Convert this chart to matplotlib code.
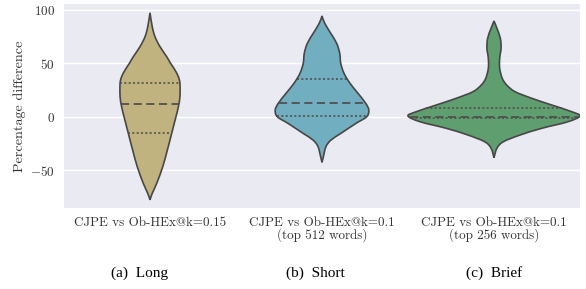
import numpy as np
import matplotlib
matplotlib.use("Agg")
import matplotlib.pyplot as plt
import matplotlib.transforms as mtransforms
from matplotlib.path import Path
from matplotlib.patches import PathPatch

plt.rcParams['font.family'] = ['cmr10', 'DejaVu Serif']
plt.rcParams['axes.formatter.use_mathtext'] = True
plt.rcParams['mathtext.fontset'] = 'cm'

# ---- data ----
categories = ["CJPE vs Ob-HEx@k=0.15",
              "CJPE vs Ob-HEx@k=0.1\n(top 512 words)",
              "CJPE vs Ob-HEx@k=0.1\n(top 256 words)"]
captions = ["(a)  Long", "(b)  Short", "(c)  Brief"]
colors = ["#c1b37f", "#71aec0", "#5f9e6e"]

# violin outlines: value levels and half-widths (in category units)
long_levels = [-78, -71.9, -62.5, -46.9, -31.2, -15.6, 0, 9.4, 18.8, 31.3, 37.5, 43.8, 50, 56.3, 65.7, 75, 84.4, 97.5]
long_halfwidth = [0, 0.013, 0.039, 0.074, 0.101, 0.126, 0.151, 0.165, 0.174, 0.174, 0.165, 0.145, 0.120, 0.097, 0.058, 0.029, 0.013, 0]

short_levels = [-42.8, -37.5, -28.1, -21.9, -15.6, -6.2, 0, 6.3, 12.6, 22, 31.3, 40.7, 50.1, 59.5, 68.9, 78.2, 87.6, 94.5]
short_halfwidth = [0, 0.008, 0.023, 0.052, 0.110, 0.198, 0.260, 0.272, 0.254, 0.209, 0.163, 0.128, 0.109, 0.103, 0.085, 0.051, 0.016, 0]

brief_levels = [-38.5, -29.6, -23.5, -17.2, -10.9, -4.7, 0.7, 4.7, 11, 17.3, 23.5, 29.7, 36, 45.4, 54.8, 64.2, 73.5, 82.9, 89.8]
brief_halfwidth = [0, 0.017, 0.054, 0.151, 0.277, 0.430, 0.500, 0.452, 0.335, 0.219, 0.122, 0.074, 0.048, 0.033, 0.033, 0.041, 0.037, 0.017, 0]

long_quartiles = [-15.6, 11.9, 31.9]
short_quartiles = [0.6, 12.9, 35.4]
brief_quartiles = [-0.8, 0.0, 7.8]

yticks = [-50, 0, 50, 100]

levels_all = [long_levels, short_levels, brief_levels]
widths_all = [long_halfwidth, short_halfwidth, brief_halfwidth]
quart_all = [long_quartiles, short_quartiles, brief_quartiles]


def cr_bezier(pts):
    pts = np.asarray(pts, float)
    n = len(pts)
    verts = []
    for i in range(n - 1):
        p0 = pts[max(i - 1, 0)]
        p1 = pts[i]
        p2 = pts[i + 1]
        p3 = pts[min(i + 2, n - 1)]
        c1 = p1 + (p2 - p0) / 6.0
        c2 = p2 - (p3 - p1) / 6.0
        verts += [c1, c2, p2]
    return verts, [Path.CURVE4] * len(verts)


fig = plt.figure(figsize=(5.86, 2.89), dpi=100)
ax = fig.add_axes([64 / 586, 1 - 208 / 289, 516 / 586, 204 / 289])
ax.set_facecolor("#eaeaf2")
for s in ax.spines.values():
    s.set_visible(False)
ax.set_axisbelow(True)
ax.yaxis.grid(True, color="white", lw=1.0)
ax.xaxis.grid(False)

edge = "#474747"
for i, (lv, hw, q, col) in enumerate(zip(levels_all, widths_all, quart_all, colors)):
    lv = np.asarray(lv, float)
    hw = np.asarray(hw, float)
    right = np.column_stack([i + hw, lv])
    left = np.column_stack([i - hw, lv])[::-1]
    v1, c1 = cr_bezier(right)
    v2, c2 = cr_bezier(left)
    verts = [right[0]] + v1 + v2 + [right[0]]
    codes = [Path.MOVETO] + c1 + c2 + [Path.CLOSEPOLY]
    patch = PathPatch(Path(verts, codes), facecolor=col, edgecolor=edge, lw=1.2, zorder=2)
    ax.add_patch(patch)
    for j, qv in enumerate(q):
        w = np.interp(qv, lv, hw)
        if j == 1:
            ax.plot([i - w, i + w], [qv, qv], color="#505050", lw=1.3,
                    linestyle=(0, (4.5, 2.5)), zorder=3)
        else:
            ax.plot([i - w, i + w], [qv, qv], color="#505050", lw=1.2,
                    linestyle=(0, (1.2, 1.4)), zorder=3)

ax.set_xlim(-0.5, 2.5)
ax.set_ylim(-85.6, 105.7)
ax.set_yticks(yticks)
ax.set_xticks(range(len(categories)))
ax.set_xticklabels(categories, fontsize=9.4, color="#333333", linespacing=0.95)
ax.tick_params(axis="both", length=0, labelsize=9.4, labelcolor="#333333")
ax.tick_params(axis="y", pad=6.5)
ax.tick_params(axis="x", pad=6.5)
ax.set_ylabel("Percentage difference", fontsize=10.2, color="#333333", labelpad=3)

trans = mtransforms.blended_transform_factory(ax.transData, fig.transFigure)
offsets = [-0.06, -0.04, 0.0]
for i, (cap, off) in enumerate(zip(captions, offsets)):
    ax.text(i + off, 1 - 273 / 289, cap, transform=trans,
            ha="center", va="center", fontsize=11, family="Liberation Serif", color="black")

fig.savefig("out.png", dpi=100)
